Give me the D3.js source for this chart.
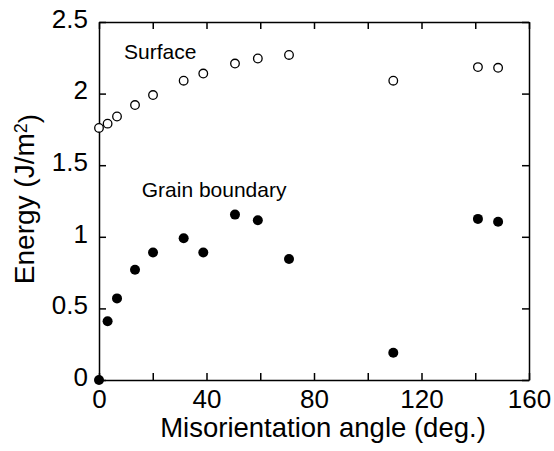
<!DOCTYPE html>
<html>
<head>
<meta charset="utf-8">
<script src="https://cdn.jsdelivr.net/npm/d3@7"></script>
<style>
  body { margin: 0; background: #fff; }
  text { font-family: "Liberation Sans", Arial, sans-serif; fill: #000; }
  .axis path, .axis line { stroke: #000; stroke-width: 1.5; }
  .axis text { font-size: 26px; }
</style>
</head>
<body>
<div id="chart"></div>
<script>
// misorientation angle (deg.)
var angles = [0, 3.2, 6.7, 13.4, 20.1, 31.5, 38.8, 50.6, 59.1, 70.7, 109.5, 141, 148.5];
// energies (J/m2)
var surface = [1.76, 1.79, 1.84, 1.92, 1.99, 2.09, 2.14, 2.21, 2.245, 2.27, 2.09, 2.185, 2.18];
var grainBoundary = [0, 0.41, 0.57, 0.77, 0.89, 0.99, 0.89, 1.155, 1.115, 0.845, 0.19, 1.125, 1.105];

var xTicks = [0, 20, 40, 60, 80, 100, 120, 140, 160];
var yTicks = [0, 0.5, 1, 1.5, 2, 2.5];

var labels = [
    {text: "Surface", angle: 9.3, energy: 2.24},
    {text: "Grain boundary", angle: 15.9, energy: 1.28}
];

var margin = {top: 22, right: 25, bottom: 71, left: 99},
    width = 554 - margin.left - margin.right,
    height = 451 - margin.top - margin.bottom;

var svg = d3.select("#chart")
    .append("svg")
    .attr("width", 554)
    .attr("height", 451)
    .append("g")
    .attr("transform", `translate(${margin.left}, ${margin.top})`);

var x = d3.scaleLinear().domain([0, 160]).range([0, width]);
var y = d3.scaleLinear().domain([0, 2.5]).range([height, 0]);

var fmtX = d => (d % 40 === 0 ? d : "");

// bottom axis, ticks point inward
svg.append("g")
    .attr("class", "axis")
    .attr("transform", `translate(0, ${height})`)
    .call(d3.axisBottom(x).tickValues(xTicks).tickFormat(fmtX)
        .tickSize(-7).tickSizeOuter(0).tickPadding(10))
    .selectAll("text")
    .filter(d => d % 40 !== 0)
    .remove();

svg.append("g")
    .attr("class", "axis")
    .call(d3.axisTop(x).tickValues(xTicks).tickFormat("")
        .tickSize(-7).tickSizeOuter(0))
    .selectAll("text").remove();

svg.append("g")
    .attr("class", "axis")
    .call(d3.axisLeft(y).tickValues(yTicks).tickFormat(d3.format("~g"))
        .tickSize(-7).tickSizeOuter(0).tickPadding(11))
    .selectAll("text")
    .attr("dy", "0.2em");

svg.append("g")
    .attr("class", "axis")
    .attr("transform", `translate(${width}, 0)`)
    .call(d3.axisRight(y).tickValues(yTicks).tickFormat("")
        .tickSize(-7).tickSizeOuter(0))
    .selectAll("text").remove();

// axis titles
svg.append("text")
    .attr("x", width / 2 + 9)
    .attr("y", height + 57)
    .attr("text-anchor", "middle")
    .style("font-size", "27.5px")
    .text("Misorientation angle (deg.)");

var yt = svg.append("text")
    .attr("transform", `translate(${-65}, ${height / 2 - 2}) rotate(-90)`)
    .attr("text-anchor", "middle")
    .style("font-size", "28px");
yt.append("tspan").text("Energy (J/m");
yt.append("tspan").attr("dy", "-0.4em").style("font-size", "18px").text("2");
yt.append("tspan").attr("dy", "0.4em").text(")");

// points
var idx = d3.range(angles.length);

svg.append("g")
    .selectAll("circle")
    .data(idx)
    .enter()
    .append("circle")
    .attr("cx", i => x(angles[i]))
    .attr("cy", i => y(surface[i]))
    .attr("r", 4.3)
    .attr("fill", "#fff")
    .attr("stroke", "#000")
    .attr("stroke-width", 1.3);

svg.append("g")
    .selectAll("circle")
    .data(idx)
    .enter()
    .append("circle")
    .attr("cx", i => x(angles[i]))
    .attr("cy", i => y(grainBoundary[i]))
    .attr("r", 5)
    .attr("fill", "#000");

svg.append("g")
    .selectAll("text")
    .data(labels)
    .enter()
    .append("text")
    .attr("x", d => x(d.angle))
    .attr("y", d => y(d.energy))
    .style("font-size", "21px")
    .text(d => d.text);
</script>
</body>
</html>
